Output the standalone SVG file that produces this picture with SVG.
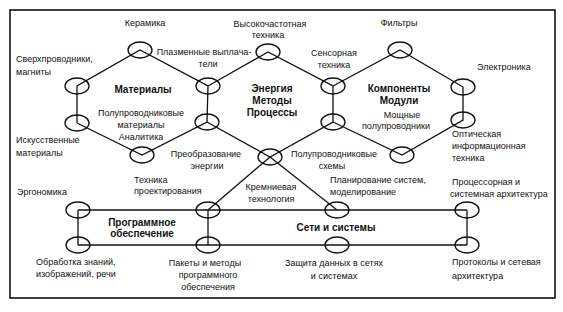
<svg xmlns="http://www.w3.org/2000/svg" width="563" height="312" viewBox="0 0 563 312">
<style>
.t{font-family:"Liberation Sans",Arial,sans-serif;font-size:9px;fill:#111}
.m{text-anchor:middle}
.b{font-weight:bold;font-size:10px}
.n{fill:none;stroke:#111;stroke-width:1.3}
.c{fill:none;stroke:#111;stroke-width:1.3}
</style>
<rect width="563" height="312" fill="#fff"/>
<rect x="10" y="10" width="545" height="288" fill="none" stroke="#111" stroke-width="1.6"/>
<g id="connectors" class="c">
<polyline points="77,123 77,86 140,50 208,86 207,122 142,155 77,123"/>
<polyline points="208,86 268,52 333,86 333,122 270,157 207,122"/>
<polyline points="333,86 400,50 463,87 463,120 402,155 333,122"/>
<line x1="270" y1="157" x2="208" y2="210"/>
<line x1="270" y1="157" x2="337" y2="210"/>
<line x1="78" y1="210" x2="467" y2="210"/>
<line x1="78" y1="245" x2="467" y2="245"/>
<line x1="78" y1="210" x2="78" y2="245"/>
<line x1="208" y1="210" x2="208" y2="245"/>
<line x1="467" y1="210" x2="467" y2="245"/>
</g>
<g id="n-keramika"><ellipse class="n" cx="140" cy="50" rx="12" ry="8"/><text class="t m" x="145" y="26">Керамика</text></g>
<g id="n-sverh"><ellipse class="n" cx="77" cy="86" rx="12" ry="8"/><text class="t" x="16" y="62">Сверхпроводники,</text><text class="t" x="16" y="75">магниты</text></g>
<g id="n-plazma"><ellipse class="n" cx="208" cy="86" rx="12" ry="8"/><text class="t m" x="204" y="55">Плазменные выплача-</text><text class="t m" x="208" y="67">тели</text></g>
<g id="n-vch"><ellipse class="n" cx="268" cy="52" rx="12" ry="8"/><text class="t m" x="270" y="27">Высокочастотная</text><text class="t m" x="268" y="38">техника</text></g>
<g id="n-sensor"><ellipse class="n" cx="333" cy="86" rx="12" ry="8"/><text class="t m" x="334" y="56">Сенсорная</text><text class="t m" x="334" y="68">техника</text></g>
<g id="n-filtry"><ellipse class="n" cx="400" cy="50" rx="12" ry="8"/><text class="t m" x="399" y="26">Фильтры</text></g>
<g id="n-elektr"><ellipse class="n" cx="463" cy="87" rx="12" ry="8"/><text class="t" x="477" y="70">Электроника</text></g>
<g id="n-isk"><ellipse class="n" cx="77" cy="123" rx="12" ry="8"/><text class="t" x="16" y="143">Искусственные</text><text class="t" x="16" y="156">материалы</text></g>
<g id="n-polumat"><ellipse class="n" cx="142" cy="155" rx="12" ry="8"/><text class="t m" x="141" y="116">Полупроводниковые</text><text class="t m" x="141" y="128">материалы</text><text class="t m" x="141" y="140">Аналитика</text></g>
<g id="n-preobr"><ellipse class="n" cx="207" cy="122" rx="12" ry="8"/><text class="t m" x="206" y="157">Преобразование</text><text class="t m" x="207" y="169">энергии</text></g>
<g id="n-center"><ellipse class="n" cx="270" cy="157" rx="12" ry="8"/><text class="t m" x="271" y="190">Кремниевая</text><text class="t m" x="271" y="202">технология</text></g>
<g id="n-sensor2"><ellipse class="n" cx="333" cy="122" rx="12" ry="8"/><text class="t m" x="334" y="157">Полупроводниковые</text><text class="t m" x="332" y="169">схемы</text></g>
<g id="n-moshch"><ellipse class="n" cx="402" cy="155" rx="12" ry="8"/><text class="t m" x="402" y="118">Мощные</text><text class="t m" x="396" y="129">полупроводники</text></g>
<g id="n-opt"><ellipse class="n" cx="463" cy="120" rx="12" ry="8"/><text class="t" x="452" y="137">Оптическая</text><text class="t" x="452" y="149">информационная</text><text class="t" x="452" y="161">техника</text></g>
<g id="n-ergo"><ellipse class="n" cx="78" cy="210" rx="12" ry="8"/><text class="t" x="17" y="195">Эргономика</text></g>
<g id="n-tech"><ellipse class="n" cx="208" cy="210" rx="12" ry="8"/><text class="t" x="134" y="183">Техника</text><text class="t" x="134" y="194">проектирования</text></g>
<g id="n-plan"><ellipse class="n" cx="337" cy="210" rx="12" ry="8"/><text class="t" x="330" y="183">Планирование систем,</text><text class="t" x="330" y="195">моделирование</text></g>
<g id="n-proc"><ellipse class="n" cx="467" cy="210" rx="12" ry="8"/><text class="t" x="452" y="185">Процессорная и</text><text class="t" x="450" y="197">системная архитектура</text></g>
<g id="n-obr"><ellipse class="n" cx="78" cy="245" rx="12" ry="8"/><text class="t" x="36" y="265">Обработка знаний,</text><text class="t" x="36" y="277">изображений, речи</text></g>
<g id="n-pak"><ellipse class="n" cx="208" cy="245" rx="12" ry="8"/><text class="t m" x="205" y="266">Пакеты и методы</text><text class="t m" x="208" y="278">программного</text><text class="t m" x="208" y="290">обеспечения</text></g>
<g id="n-zash"><ellipse class="n" cx="337" cy="245" rx="12" ry="8"/><text class="t m" x="334" y="266">Защита данных в сетях</text><text class="t m" x="334" y="279">и системах</text></g>
<g id="n-prot"><ellipse class="n" cx="467" cy="245" rx="12" ry="8"/><text class="t" x="452" y="265">Протоколы и сетевая</text><text class="t" x="452" y="279">архитектура</text></g>
<g id="labels">
<text class="t b m" x="143" y="93">Материалы</text>
<text class="t b m" x="272" y="92">Энергия</text>
<text class="t b m" x="272" y="104">Методы</text>
<text class="t b m" x="272" y="116">Процессы</text>
<text class="t b m" x="399" y="92">Компоненты</text>
<text class="t b m" x="399" y="104">Модули</text>
<text class="t b m" x="142" y="226">Программное</text>
<text class="t b m" x="142" y="237">обеспечение</text>
<text class="t b m" x="336" y="231">Сети и системы</text>
</g>
</svg>
